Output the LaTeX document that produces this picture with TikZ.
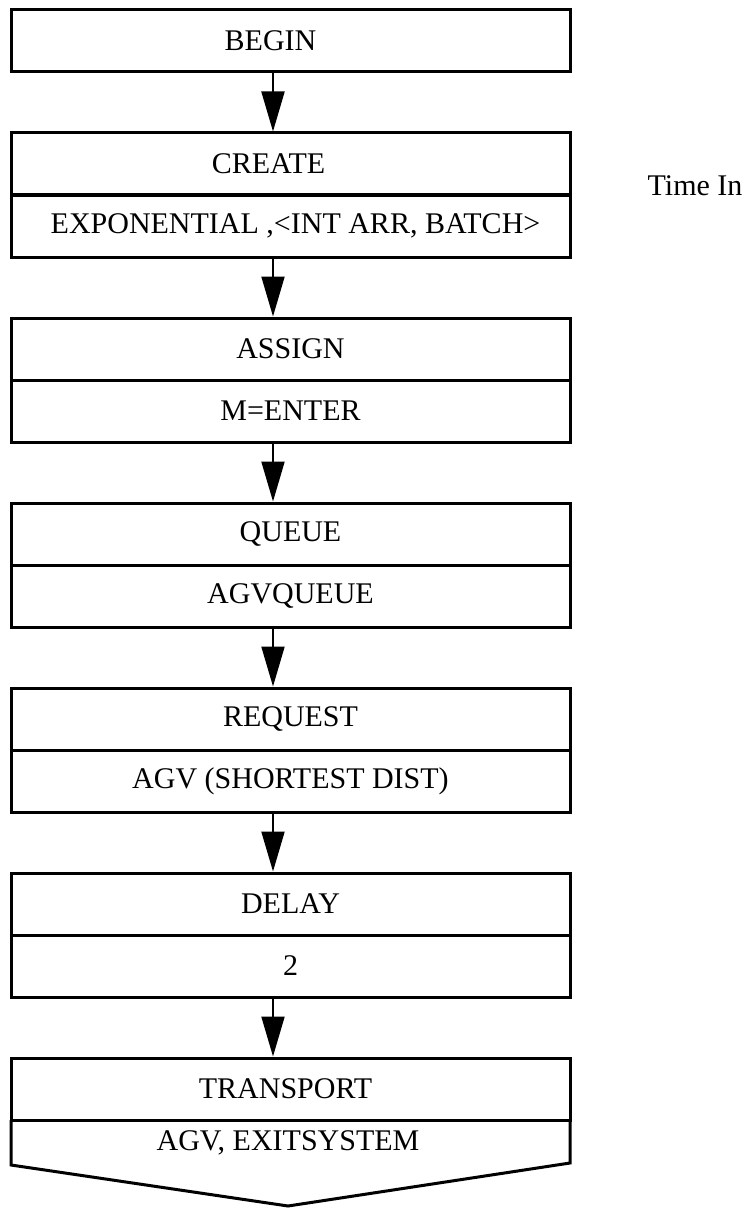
\documentclass[tikz,border=0pt]{standalone}
\usepackage{fontspec}
\setmainfont{Liberation Serif}
\usetikzlibrary{arrows.meta}

\tikzset{
  blockrow/.style={draw, line width=3pt, minimum width=559pt, minimum height=62pt,
                   inner sep=0pt, font=\fontsize{30}{36}\selectfont},
  % moves the text of a row sideways by the given amount
  textoffset/.style={execute at begin node={\hspace*{#1}}},
  flowarrow/.style={line width=2pt, -{Triangle[length=40pt,width=23pt]}},
  plainlabel/.style={inner sep=0pt, font=\fontsize{30}{36}\selectfont}
}

\begin{document}
\begin{tikzpicture}[x=1pt,y=-1pt]
  \useasboundingbox (0,0) rectangle (753,1209);

  % SIMAN block stack
  \node[blockrow, textoffset=-40pt] (begin)    at (290.5,40.5)  {BEGIN};

  \node[blockrow, textoffset=-44pt] (create)   at (290.5,164)   {CREATE};
  \node[blockrow, textoffset=10pt]  (createP)  at (290.5,226)   {EXPONENTIAL ,<INT ARR, BATCH>};

  \node[blockrow] (assign)   at (290.5,349)   {ASSIGN};
  \node[blockrow] (assignP)  at (290.5,411)   {M=ENTER};

  \node[blockrow] (queue)    at (290.5,534)   {QUEUE};
  \node[blockrow] (queueP)   at (290.5,596)   {AGVQUEUE};

  \node[blockrow] (request)  at (290.5,719)   {REQUEST};
  \node[blockrow] (requestP) at (290.5,781)   {AGV (SHORTEST DIST)};

  \node[blockrow] (delay)    at (290.5,904)   {DELAY};
  \node[blockrow] (delayP)   at (290.5,966)   {2};

  \node[blockrow, textoffset=-10pt] (transport) at (290.5,1089) {TRANSPORT};

  % pointed exit block under TRANSPORT
  \draw[line width=3pt, line join=miter]
    (11,1120) -- (11,1165) -- (288,1206) -- (570,1163) -- (570,1120);
  \node[plainlabel] (transportP) at (288,1143) {AGV, EXITSYSTEM};

  % side annotation
  \node[plainlabel] (timein) at (695,186) {Time In};

  % flow connectors
  \coordinate (ax) at (273,0);
  \draw[flowarrow] (begin.south -| ax)   -- (create.north -| ax);
  \draw[flowarrow] (createP.south -| ax) -- (assign.north -| ax);
  \draw[flowarrow] (assignP.south -| ax) -- (queue.north -| ax);
  \draw[flowarrow] (queueP.south -| ax)  -- (request.north -| ax);
  \draw[flowarrow] (requestP.south -| ax) -- (delay.north -| ax);
  \draw[flowarrow] (delayP.south -| ax)  -- (transport.north -| ax);
\end{tikzpicture}
\end{document}
